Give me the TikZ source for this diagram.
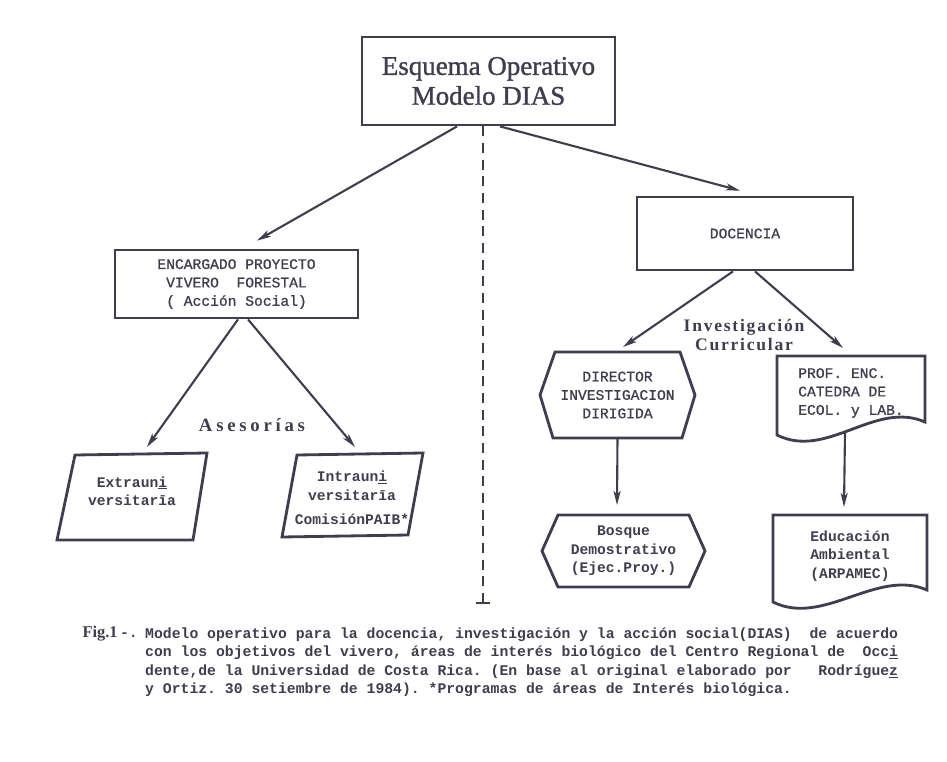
\documentclass[tikz,border=0pt]{standalone}
\usepackage{fontspec}
\setmainfont{Liberation Serif}
\setmonofont{Liberation Mono}
\newfontfamily\tagfont{Liberation Serif}
\newfontfamily\headfont{Liberation Serif}[FakeBold=1.2]
\newfontfamily\typefont{Liberation Mono}[FakeBold=1]
\usetikzlibrary{arrows.meta,calc}
\definecolor{ink}{RGB}{62,62,78}

\begin{document}
\begin{tikzpicture}[x=0.03cm,y=-0.03cm,
  frame/.style={draw=ink,line width=2.4pt,inner sep=0pt,text=ink,align=center,
    font=\typefont\fontsize{12.5}{15.7}\selectfont},
  plain/.style={inner sep=0pt,text=ink,align=center,
    font=\typefont\fontsize{12.5}{15.7}\selectfont},
  heavy/.style={plain,font=\ttfamily\bfseries\fontsize{12.5}{15.7}\selectfont},
  outline/.style={draw=ink,line width=2.4pt,line join=miter},
  link/.style={draw=ink,line width=1.8pt,-{Stealth[length=12pt,width=6pt,inset=3pt]}},
  tag/.style={text=ink,align=center,inner sep=0pt}]
  \useasboundingbox (0,0) rectangle (947,762);

  % top
  \node[frame,minimum width=7.59cm,minimum height=2.64cm,
    font=\headfont\fontsize{23}{25.5}\selectfont] (esquema) at (488.5,81)
    {Esquema Operativo\\Modelo DIAS};
  \coordinate (stop) at (483,603);
  \draw[ink,line width=2.5pt,dash pattern=on 0.3cm off 0.2cm]
    ($(esquema.south)+(-5.5,0)$) -- (stop);
  \draw[ink,line width=2.4pt] ($(stop)+(-7,0)$) -- ($(stop)+(7,0)$);

  % left
  %boxes
  \node[frame,minimum width=7.29cm,minimum height=2.04cm] (encargado) at (236.5,284)
    {ENCARGADO PROYECTO\\VIVERO\ \ FORESTAL\\( Acción Social)};
  \node[heavy] (extra) at (132,491) {Extraun\underline{i}\\versitarīa};
  \draw[outline] ($(extra)+(-57,-36)$) -- ($(extra)+(75,-38)$)
    -- ($(extra)+(61,49)$) -- ($(extra)+(-75,49)$) -- cycle;
  \node[heavy] (intra) at (352,498) {Intraun\underline{i}\\versitarīa\\[5pt]ComisiónPAIB*};
  \draw[outline] ($(intra)+(-55,-43)$) -- ($(intra)+(71,-45)$)
    -- ($(intra)+(56,37)$) -- ($(intra)+(-70,39)$) -- cycle;
  %labels
  \node[tag,font=\tagfont\bfseries\fontsize{16}{16}\selectfont\addfontfeature{LetterSpace=20}]
    (asesorias) at (252,425) {Asesorías};
  %arrows
  \draw[link] ($(esquema.south)+(-31.5,0)$) -- ($(encargado.north)+(20.5,-8)$);
  \draw[link] ($(encargado.south)+(1.5,0)$) -- ($(extra)+(15,-44)$);
  \draw[link] ($(encargado.south)+(11.5,0)$) -- ($(intra)+(3,-51)$);

  % right
  %boxes
  \node[frame,minimum width=6.48cm,minimum height=2.19cm] (docencia) at (745,233.5) {DOCENCIA};
  \node[plain] (director) at (617.5,395) {DIRECTOR\\INVESTIGACION\\DIRIGIDA};
  \draw[outline] ($(director)+(-77.5,0)$) -- ($(director)+(-62.5,-43)$)
    -- ($(director)+(62.5,-43)$) -- ($(director)+(77.5,0)$)
    -- ($(director)+(64.5,43)$) -- ($(director)+(-64.5,43)$) -- cycle;
  \node[heavy] (bosque) at (623.5,551) {Bosque\\Demostrativo\\(Ejec.Proy.)};
  \draw[outline] ($(bosque)+(-81.5,0)$) -- ($(bosque)+(-65.5,-36)$)
    -- ($(bosque)+(65.5,-36)$) -- ($(bosque)+(81.5,0)$)
    -- ($(bosque)+(65.5,36)$) -- ($(bosque)+(-65.5,36)$) -- cycle;
  \node[plain,align=left] (prof) at (851,393) {PROF. ENC.\\CATEDRA DE\\ECOL. y LAB.};
  \draw[outline] ($(prof)+(-74,-37)$) -- ($(prof)+(74,-37)$) -- ($(prof)+(74,29)$)
    .. controls ($(prof)+(24,7)$) and ($(prof)+(-24,67)$) .. ($(prof)+(-74,42)$) -- cycle;
  \node[heavy] (edu) at (850,556) {Educación\\Ambiental\\(ARPAMEC)};
  \draw[outline] ($(edu)+(-77,-41)$) -- ($(edu)+(77,-41)$) -- ($(edu)+(77,34)$)
    .. controls ($(edu)+(27,12)$) and ($(edu)+(-27,71)$) .. ($(edu)+(-77,46)$) -- cycle;
  %labels
  \node[tag,font=\tagfont\bfseries\fontsize{15}{15.5}\selectfont\addfontfeature{LetterSpace=10}]
    (curricular) at (744,335) {Investigación\\Curricular};
  %arrows
  \draw[link] ($(esquema.south)+(11.5,0)$) -- ($(docencia.north)+(-5,-5)$);
  \draw[link] ($(docencia.south)+(-12,0)$) -- ($(director)+(5.5,-48)$);
  \draw[link] ($(docencia.south)+(10,0)$) -- ($(prof)+(-8,-45)$);
  \draw[link] ($(director)+(0,43)$) -- ($(bosque)+(-6.5,-46)$);
  \draw[link] ($(prof)+(-6,39)$) -- ($(edu)+(-6,-49)$);

  % caption
  \node[tag,anchor=base east] (fig) at (138,637)
    {{\tagfont\bfseries\fontsize{14}{14}\selectfont Fig.1}{\ttfamily\bfseries\fontsize{12.6}{14}\selectfont\,-.}};
  \node[tag,anchor=north west,align=left,font=\ttfamily\bfseries\fontsize{12.6}{15.7}\selectfont]
    (caption) at (145,627.5)
    {Modelo operativo para la docencia, investigación y la acción social(DIAS)\ \ de acuerdo\\
     con los objetivos del vivero, áreas de interés biológico del Centro Regional de\ \ Occ\underline{i}\\
     dente,de la Universidad de Costa Rica. (En base al original elaborado por\ \ \ Rodrígue\underline{z}\\
     y Ortiz. 30 setiembre de 1984). *Programas de áreas de Interés biológica.};
\end{tikzpicture}
\end{document}
